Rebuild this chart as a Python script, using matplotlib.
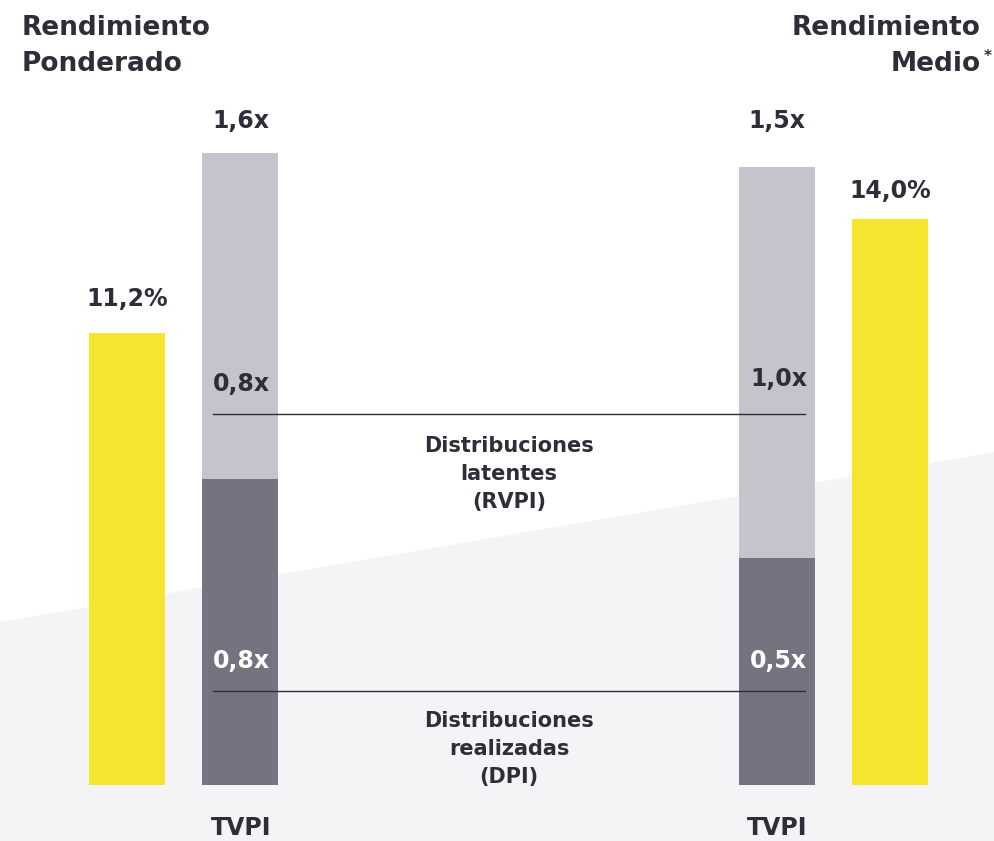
import matplotlib.pyplot as plt
from matplotlib.patches import Polygon

# datos
rend_labels = ['11,2%', '14,0%']
rend_values = [11.2, 14.0]
tvpi_total_labels = ['1,6x', '1,5x']
tvpi_realizadas = [0.775, 0.575]   # altura
tvpi_latentes = [0.825, 0.99]
realizadas_labels = ['0,8x', '0,5x']
latentes_labels = ['0,8x', '1,0x']

W, H = 995, 841
YELLOW = '#F6E52E'
LIGHT = '#C4C4CD'
DARK = '#747480'
TEXT = '#2E2E38'
FONT = 'DejaVu Sans'

def fx(x):
    return x / W

def fy(y):
    return 1 - y / H

fig = plt.figure(figsize=(W / 100, H / 100), dpi=100)
fig.patch.set_facecolor('white')

ax = fig.add_axes([0, 0, 1, 1])
ax.set_xlim(0, W)
base = H - 785
ax.set_ylim(-base / 395, 785 / 395)
ax.axis('off')

# fondo gris inclinado
ax.add_patch(Polygon([(fx(0), fy(622)), (fx(W), fy(452)), (fx(W), 0), (0, 0)],
                     closed=True, transform=fig.transFigure,
                     facecolor='#F4F4F7', edgecolor='none', zorder=0))

ax2 = ax.twinx()
ax2.set_ylim(-base / 40.4, 785 / 40.4)
ax2.axis('off')

# barras amarillas (rendimiento)
ax2.bar([127, 890], rend_values, width=76, color=YELLOW, zorder=2)

# barras TVPI apiladas
ax.bar([240, 776.5], tvpi_realizadas, width=76, color=DARK, zorder=2)
ax.bar([240, 776.5], tvpi_latentes, width=76, bottom=tvpi_realizadas, color=LIGHT, zorder=2)

# lineas de referencia
for y in [414, 691]:
    ax2.plot([fx(213), fx(805)], [fy(y), fy(y)], color=TEXT, lw=1,
             transform=fig.transFigure, zorder=3)

# titulos
kw_t = dict(fontsize=19, fontweight='bold', color=TEXT, family=FONT, linespacing=1.5)
fig.text(fx(22), fy(15), 'Rendimiento\nPonderado', ha='left', va='top', **kw_t)
fig.text(fx(981), fy(15), 'Rendimiento\nMedio', ha='right', va='top', **kw_t)
fig.text(fx(988), fy(57), '*', ha='center', va='center', fontsize=11,
         fontweight='bold', color=TEXT, family=FONT)

# etiquetas de valores
kw = dict(fontsize=17, fontweight='bold', color=TEXT, family=FONT)
fig.text(fx(241), fy(121), tvpi_total_labels[0], ha='center', va='center', **kw)
fig.text(fx(777), fy(121), tvpi_total_labels[1], ha='center', va='center', **kw)
fig.text(fx(127), fy(299), rend_labels[0], ha='center', va='center', **kw)
fig.text(fx(890), fy(191), rend_labels[1], ha='center', va='center', **kw)

fig.text(fx(213), fy(384), latentes_labels[0], ha='left', va='center', **kw)
fig.text(fx(750), fy(379), latentes_labels[1], ha='left', va='center', **kw)
kw_w = dict(kw, color='white')
fig.text(fx(213), fy(661), realizadas_labels[0], ha='left', va='center', **kw_w)
fig.text(fx(750), fy(661), realizadas_labels[1], ha='left', va='center', **kw_w)

fig.text(fx(241), fy(828), 'TVPI', ha='center', va='center', **kw)
fig.text(fx(777), fy(828), 'TVPI', ha='center', va='center', **kw)

kw_m = dict(fontsize=15, fontweight='bold', color=TEXT, family=FONT, linespacing=1.5)
fig.text(fx(509), fy(474), 'Distribuciones\nlatentes\n(RVPI)', ha='center', va='center', **kw_m)
fig.text(fx(509), fy(749), 'Distribuciones\nrealizadas\n(DPI)', ha='center', va='center', **kw_m)

fig.savefig('out.png', dpi=100)
